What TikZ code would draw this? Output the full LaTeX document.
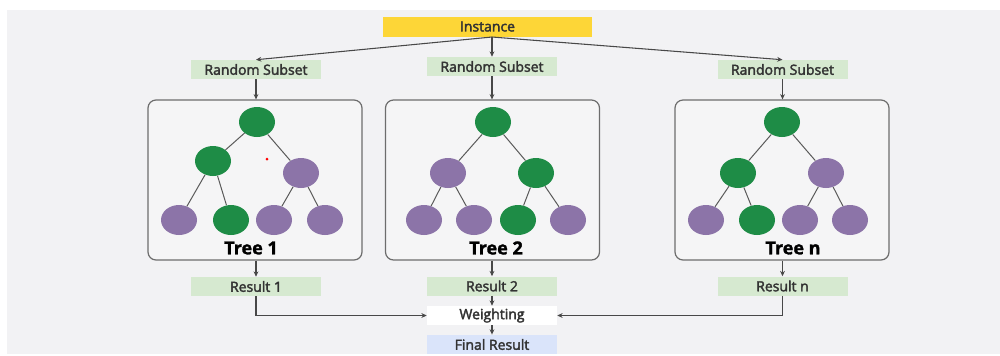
\documentclass[tikz,border=0pt]{standalone}
\usepackage{fontspec}
\setmainfont{Open Sans}
\newfontfamily\semifont{Open Sans}[FakeBold=2.5]
\newfontfamily\heavyfont{Open Sans}[BoldFeatures={FakeBold=1.5}]
\usetikzlibrary{shapes.geometric,arrows.meta}
\definecolor{leafgreen}{RGB}{30,140,70}
\definecolor{leafpurple}{RGB}{140,116,168}
\definecolor{tagfill}{RGB}{214,233,208}
\definecolor{instfill}{RGB}{253,214,55}
\definecolor{finalfill}{RGB}{218,228,250}
\definecolor{canvas}{RGB}{242,242,244}
\definecolor{wire}{RGB}{72,72,72}
\tikzset{
	tag/.style={rectangle, fill=tagfill, minimum width=97.5pt, minimum height=14.25pt, inner sep=0pt, text=black!80, font=\semifont\fontsize{10.5}{12}\selectfont},
	gnode/.style={ellipse, fill=leafgreen, minimum width=27pt, minimum height=22.5pt, inner sep=0pt},
	pnode/.style={ellipse, fill=leafpurple, minimum width=27pt, minimum height=22.5pt, inner sep=0pt},
	treebox/.style={rectangle, draw=wire!80, line width=0.9pt, rounded corners=6pt, fill=canvas!80!white, minimum width=160.5pt, minimum height=120pt, inner sep=0pt},
	treename/.style={font=\heavyfont\bfseries\fontsize{13.5}{15}\selectfont, inner sep=0pt},
	edge/.style={draw=wire!90, line width=0.75pt},
	flow/.style={draw=wire, line width=0.8pt, -{Stealth[length=4pt,width=3.6pt]}},
}

\begin{document}
\begin{tikzpicture}[x=0.75pt, y=-0.75pt]
			%%%%% START %%%%%
			\useasboundingbox (0, 0) rectangle (1000, 355);
			\fill[white] (0, 0) rectangle (1000, 355);
			\fill[canvas] (7, 10) rectangle (1000, 354);
			
			% top
			\node[tag, fill=instfill, minimum width=156.75pt, minimum height=15pt] (inst) at (487.5, 26.5) {Instance};
			\node[tag] (subA) at (256, 69.5) {Random Subset};
			\node[tag] (subB) at (492, 66.5) {Random Subset};
			\node[tag] (subN) at (782.5, 69.5) {Random Subset};
			
			% tree boxes
			\node[treebox] (boxA) at (255, 180) {};
			\node[treebox] (boxB) at (492.5, 180) {};
			\node[treebox] (boxN) at (782, 180) {};
			
			% tree 1
			\node[gnode] (t1root) at (257, 122) {};
			\node[gnode] (t1l) at (213, 161) {};
			\node[pnode] (t1r) at (301, 173) {};
			\node[pnode] (t1ll) at (179, 220) {};
			\node[gnode] (t1lr) at (231, 220) {};
			\node[pnode] (t1rl) at (274, 220) {};
			\node[pnode] (t1rr) at (325, 220) {};
			\node[treename] (t1name) at (251, 248) {Tree 1};
			\fill[red] (267, 159) circle (1.5);
			
			% tree 2
			\node[gnode] (t2root) at (493, 122) {};
			\node[pnode] (t2l) at (448, 173) {};
			\node[gnode] (t2r) at (536, 173) {};
			\node[pnode] (t2ll) at (424, 220) {};
			\node[pnode] (t2lr) at (474, 220) {};
			\node[gnode] (t2rl) at (518, 220) {};
			\node[pnode] (t2rr) at (568, 220) {};
			\node[treename] (t2name) at (496, 248) {Tree 2};
			
			% tree n
			\node[gnode] (tnroot) at (782, 122) {};
			\node[gnode] (tnl) at (738, 173) {};
			\node[pnode] (tnr) at (826, 173) {};
			\node[pnode] (tnll) at (706, 220) {};
			\node[gnode] (tnlr) at (757, 220) {};
			\node[pnode] (tnrl) at (800, 220) {};
			\node[pnode] (tnrr) at (850, 220) {};
			\node[treename] (tnname) at (793, 248) {Tree n};
			
			\draw[edge] (t1root) -- (t1l);
			\draw[edge] (t1root) -- (t1r);
			\draw[edge] (t1l) -- (t1ll);
			\draw[edge] (t1l) -- (t1lr);
			\draw[edge] (t1r) -- (t1rl);
			\draw[edge] (t1r) -- (t1rr);
			
			\draw[edge] (t2root) -- (t2l);
			\draw[edge] (t2root) -- (t2r);
			\draw[edge] (t2l) -- (t2ll);
			\draw[edge] (t2l) -- (t2lr);
			\draw[edge] (t2r) -- (t2rl);
			\draw[edge] (t2r) -- (t2rr);
			
			\draw[edge] (tnroot) -- (tnl);
			\draw[edge] (tnroot) -- (tnr);
			\draw[edge] (tnl) -- (tnll);
			\draw[edge] (tnl) -- (tnlr);
			\draw[edge] (tnr) -- (tnrl);
			\draw[edge] (tnr) -- (tnrr);
			
			% bottom
			\node[tag] (resA) at (256, 286.5) {Result 1};
			\node[tag] (resB) at (492, 286) {Result 2};
			\node[tag] (resN) at (782.5, 286) {Result n};
			\node[tag, fill=white] (weigh) at (492, 315.5) {Weighting};
			\node[tag, fill=finalfill, minimum height=14.5pt] (final) at (492, 344.5) {Final Result};
			
			% connectors
			\coordinate (split) at (492, 37);
			\draw[flow] (split) -- (subA.north);
			\draw[flow] (split) -- (subB.north);
			\draw[flow] (split) -- (subN.north);
			\draw[flow] (subA.south) -- (subA.south |- boxA.north);
			\draw[flow] (subB.south) -- (subB.south |- boxB.north);
			\draw[flow] (subN.south) -- (subN.south |- boxN.north);
			\draw[flow] (resA.north |- boxA.south) -- (resA.north);
			\draw[flow] (resB.north |- boxB.south) -- (resB.north);
			\draw[flow] (resN.north |- boxN.south) -- (resN.north);
			\draw[flow] (resA.south) |- (weigh.west);
			\draw[flow] (resN.south) |- (weigh.east);
			\draw[flow] (resB.south) -- (weigh.north);
			\draw[flow] (weigh.south) -- (final.north);
			
			%%%%% END %%%%%
\end{tikzpicture}
\end{document}
